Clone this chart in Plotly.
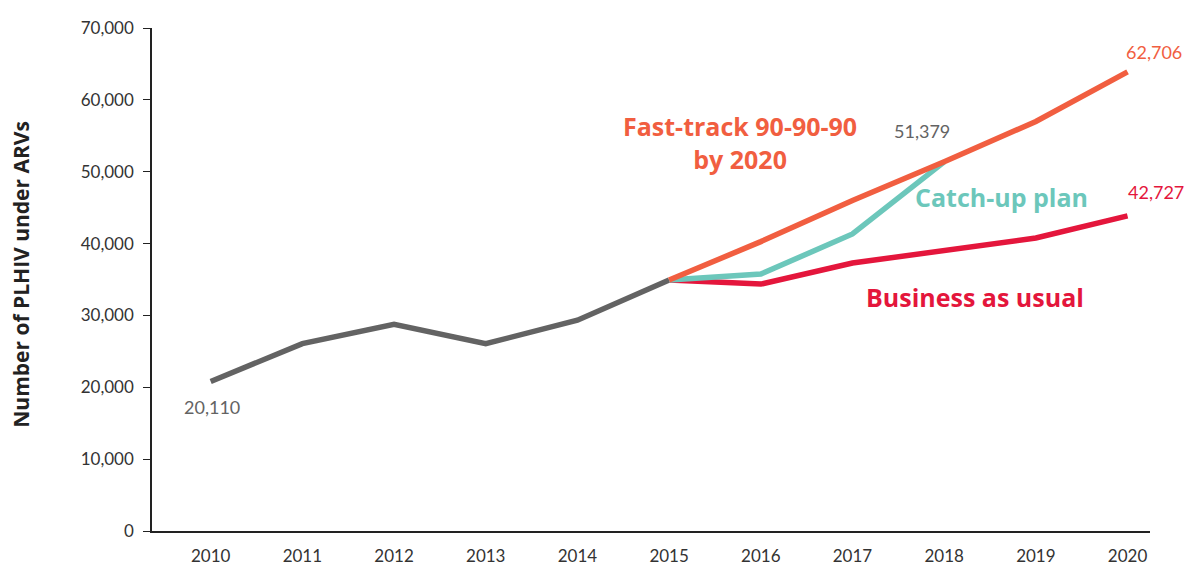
"""
PLHIV on ARVs: historical trend and three scenarios to 2020.
"""

import plotly.graph_objects as go

# historical series
years_hist = [2010, 2011, 2012, 2013, 2014, 2015]
plhiv_hist = [20800, 26070, 28770, 26070, 29330, 34920]

# scenarios from 2015
years_fast = [2015, 2016, 2017, 2018, 2019, 2020]
plhiv_fast = [34920, 40270, 46000, 51379, 57000, 63900]

years_catch = [2015, 2016, 2017, 2018]
plhiv_catch = [34920, 35750, 41340, 51379]

years_bau = [2015, 2016, 2017, 2018, 2019, 2020]
plhiv_bau = [34920, 34360, 37290, 39110, 40780, 43850]

x_ticks = [2010, 2011, 2012, 2013, 2014, 2015, 2016, 2017, 2018, 2019, 2020]
y_ticks = [0, 10000, 20000, 30000, 40000, 50000, 60000, 70000]

GRAY = "rgb(99,99,99)"
ORANGE = "rgb(241,94,64)"
TEAL = "rgb(108,199,187)"
RED = "rgb(228,22,60)"
FONT = "Lato"
BOLD_FONT = "Open Sans"

fig = go.Figure()

series = [
    (years_hist, plhiv_hist, GRAY),
    (years_bau, plhiv_bau, RED),
    (years_catch, plhiv_catch, TEAL),
    (years_fast, plhiv_fast, ORANGE),
]
for xs, ys, colour in series:
    fig.add_trace(go.Scatter(x=xs, y=ys, mode="lines",
                             line=dict(color=colour, width=5.5),
                             hoverinfo="skip", showlegend=False))

# value labels (x in paper units so the ones right of the axis are kept)
value_labels = [
    ("20,110", 0.060, 17300, GRAY),
    ("51,379", 0.772, 55700, GRAY),
    ("62,706", 1.004, 66600, ORANGE),
    ("42,727", 1.006, 47200, RED),
]
for text, x, y, colour in value_labels:
    fig.add_annotation(xref="paper", x=x, y=y, text=text, showarrow=False,
                       xanchor="center", yanchor="middle",
                       font=dict(family=FONT, size=18, color=colour))

# scenario labels
scenario_labels = [
    ("<b>Fast-track 90-90-90<br>by 2020</b>", 2015.77, 54100, ORANGE),
    ("<b>Catch-up plan</b>", 2018.63, 46500, TEAL),
    ("<b>Business as usual</b>", 2018.34, 32500, RED),
]
for text, x, y, colour in scenario_labels:
    fig.add_annotation(x=x, y=y, text=text, showarrow=False,
                       xanchor="center", yanchor="middle",
                       font=dict(family=BOLD_FONT, size=25, color=colour))

# y axis title
fig.add_annotation(xref="paper", yref="paper", x=-0.131, y=0.51,
                   xanchor="center", yanchor="middle",
                   text="<b>Number of PLHIV under ARVs</b>", textangle=-90,
                   showarrow=False, font=dict(family=BOLD_FONT, size=21, color="#222"))

fig.update_layout(
    width=1192, height=565,
    margin=dict(l=144, r=50, t=20, b=42),
    plot_bgcolor="white", paper_bgcolor="white",
    font=dict(family=FONT, size=17, color="#333"),
)
fig.update_xaxes(range=[2009.36, 2020.245], tickvals=x_ticks, showgrid=False,
                 zeroline=False, showline=True, linecolor="#222", linewidth=1.5,
                 ticks="", ticklabelstandoff=9, automargin=False)
fig.update_yaxes(range=[0, 70000], tickvals=y_ticks, tickformat=",", showgrid=False,
                 zeroline=False, showline=True, linecolor="#222", linewidth=1.5,
                 ticks="outside", ticklen=7, tickcolor="#222", tickwidth=1.2,
                 ticklabelstandoff=6, automargin=False)

fig.write_html("out.html")
